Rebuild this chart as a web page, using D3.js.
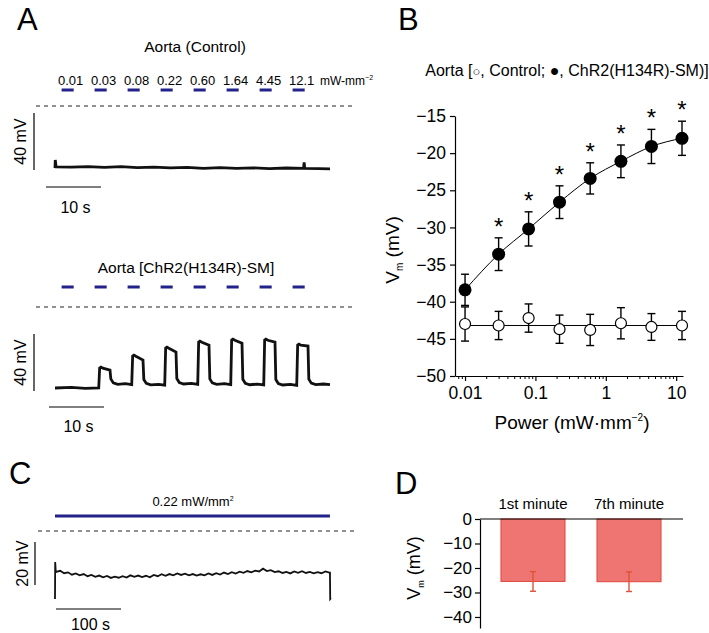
<!DOCTYPE html>
<html>
<head>
<meta charset="utf-8">
<script src="https://cdn.jsdelivr.net/npm/d3@7"></script>
<style>
body { margin: 0; background: #fff; }
svg { font-family: "Liberation Sans", Arial, Helvetica, sans-serif; }
</style>
</head>
<body>
<svg id="fig" width="709" height="633"></svg>
<script>
// --------- data ---------- //
// B: membrane potential vs light power
var powers = [0.01, 0.03, 0.08, 0.22, 0.60, 1.64, 4.45, 12.1];
var powerLabels = ["0.01", "0.03", "0.08", "0.22", "0.60", "1.64", "4.45", "12.1"];
var vmChR2 = [-38.4, -33.6, -30.2, -26.6, -23.4, -21.1, -19.1, -18.0];
var semChR2 = [2.1, 2.2, 2.3, 2.2, 2.1, 2.2, 2.3, 2.3];
var vmControl = [-43.0, -43.2, -42.2, -43.7, -43.8, -42.9, -43.4, -43.2];
var semControl = [2.3, 1.9, 1.9, 1.9, 2.1, 2.1, 1.8, 1.9];
var controlMean = -43.2;
var signif = [false, true, true, true, true, true, true, true];
var bTicksY = [-15, -20, -25, -30, -35, -40, -45, -50];
var bTicksX = [0.01, 0.1, 1, 10];
var bMinorX = [0.008, 0.009, 0.02, 0.03, 0.04, 0.05, 0.06, 0.07, 0.08, 0.09,
  0.2, 0.3, 0.4, 0.5, 0.6, 0.7, 0.8, 0.9, 2, 3, 4, 5, 6, 7, 8, 9];

// A: light pulses (s) and ChR2 trace, mV above rest
var stimStart = [1.2, 7.2, 13.2, 19.2, 25.2, 31.2, 37.2, 43.2];
var stimDur = 2.2;
var pulseOn = [8, 14, 20, 26, 32, 38, 44];
var pulsePeak = [14.7, 23.1, 28.7, 32.9, 34.3, 34.3, 30.8];
var pulseEnd = [12.6, 19.6, 25.2, 30.1, 31.5, 32.2, 29.4];
var pulseBase = [0, 2.4, 2.0, 2.6, 2.4, 2.1, 1.9, 2.2];
// A: control trace [s, mV]
var controlTrace = [[0, 0], [0.05, 5.6], [0.2, 0.8], [3, 0.6], [6, 1.0], [9, 0.4], [12, 0.9], [15, 0.2],
  [18, 0.6], [21, 0.1], [24, 0.4], [27, -0.2], [30, 0.2], [33, -0.3], [36, 0.1], [39, -0.4],
  [42, 0], [45.2, -0.3], [45.3, 4.0], [45.4, -0.3], [48, -0.5], [50, -0.6]];

// C: 7 min illumination at 0.22 mW/mm2, mV above rest
var cTime = [2, 8, 14, 20, 26, 32, 38, 44, 50, 56, 62, 68, 74, 80, 86, 92, 98, 104, 110, 116,
  122, 128, 134, 140, 146, 152, 158, 164, 170, 176, 182, 188, 194, 200, 206, 212, 218, 224,
  230, 236, 242, 248, 254, 260, 266, 272, 278, 284, 290, 296, 302, 308, 314, 320, 326, 332,
  338, 344, 350, 356, 362, 368, 374, 380, 386, 392, 398, 404, 410, 416, 422];
var cVm = [12.6, 13.1, 12.0, 12.4, 11.3, 11.9, 11.0, 11.6, 10.6, 11.2, 10.3, 10.9, 10.1, 10.7,
  9.8, 10.4, 9.9, 10.6, 10.0, 11.0, 10.3, 10.9, 10.2, 10.8, 10.1, 11.2, 10.6, 11.5, 10.8, 11.6,
  11.0, 11.9, 11.2, 11.8, 11.0, 11.6, 10.9, 11.5, 11.0, 11.9, 11.2, 12.0, 11.4, 12.3, 11.6,
  12.5, 11.8, 12.7, 12.2, 13.0, 12.4, 13.2, 12.8, 14.1, 13.0, 13.4, 12.5, 12.9, 12.1, 12.6,
  11.9, 12.8, 12.2, 12.9, 12.1, 12.6, 11.9, 12.5, 12.0, 12.8, 12.3];
var cEnd = 423;

// D: Vm at 1st and 7th minute
var dCats = ["1st minute", "7th minute"];
var dMean = [-25.5, -25.6];
var dSem = [4.0, 4.0];
var dTicks = [0, -10, -20, -30, -40];

// --------- helpers ---------- //
var svg = d3.select("#fig");
var blue = "#23218a";

function panelLetter(t, x, y) {
  svg.append("text").attr("x", x).attr("y", y).attr("font-size", 31).text(t);
}
function dashed(x1, x2, y) {
  svg.append("line").attr("x1", x1).attr("x2", x2).attr("y1", y).attr("y2", y)
    .attr("stroke", "#222").attr("stroke-width", 1).attr("stroke-dasharray", "4,4");
}
function vbar(x, y1, y2, label, lx) {
  svg.append("line").attr("x1", x).attr("x2", x).attr("y1", y1).attr("y2", y2)
    .attr("stroke", "#000").attr("stroke-width", 1.2);
  svg.append("text").attr("transform", "translate(" + lx + "," + (y1 + y2) / 2 + ") rotate(-90)")
    .attr("text-anchor", "middle").attr("font-size", 16).attr("dy", "0.35em").text(label);
}
function hbar(x1, x2, y, label, ty) {
  svg.append("line").attr("x1", x1).attr("x2", x2).attr("y1", y).attr("y2", y)
    .attr("stroke", "#000").attr("stroke-width", 1.2);
  svg.append("text").attr("x", (x1 + x2) / 2 + 2).attr("y", ty).attr("text-anchor", "middle")
    .attr("font-size", 16).text(label);
}
var traceLine = function(xs, ys) {
  return d3.line().x(function(d){ return xs(d[0]); }).y(function(d){ return ys(d[1]); });
};

// --------- Panel A ---------- //
panelLetter("A", 17, 30);
var ax = d3.scaleLinear().domain([0, 50]).range([55, 330]);
svg.append("text").attr("x", 195).attr("y", 52).attr("text-anchor", "middle")
  .attr("font-size", 15.5).text("Aorta (Control)");

svg.selectAll(".plab").data(powerLabels).enter().append("text")
  .attr("x", function(d, i){ return ax(stimStart[i] + stimDur / 2) + 3; })
  .attr("y", 85).attr("text-anchor", "middle").attr("font-size", 13).text(function(d){ return d; });
var unitA = svg.append("text").attr("x", 320).attr("y", 85).attr("font-size", 12);
unitA.append("tspan").text("mW-mm");
unitA.append("tspan").attr("font-size", 7).attr("dy", -5).text("−2");

[90, 287].forEach(function(yy) {
  svg.selectAll(null).data(stimStart).enter().append("line")
    .attr("x1", function(d){ return ax(d); }).attr("x2", function(d){ return ax(d + stimDur); })
    .attr("y1", yy).attr("y2", yy).attr("stroke", blue).attr("stroke-width", 3);
});
dashed(36, 355, 106);
dashed(36, 355, 307);

// control trace
var ay1 = d3.scaleLinear().domain([0, 40]).range([168, 168 - 57]);
svg.append("path").datum(controlTrace).attr("d", traceLine(ax, ay1))
  .attr("fill", "none").attr("stroke", "#111").attr("stroke-width", 2.8);
vbar(34, 113, 170, "40 mV", 20);
hbar(46, 101, 187, "10 s", 213);

// ChR2 trace
svg.append("text").attr("x", 186).attr("y", 273).attr("text-anchor", "middle")
  .attr("font-size", 15.5).text("Aorta [ChR2(H134R)-SM]");
var a2 = [[0, pulseBase[0]], [3, pulseBase[0] + 0.4], [5.5, pulseBase[0] - 0.2]];
pulseOn.forEach(function(on, i) {
  var b = pulseBase[i], nb = pulseBase[i + 1];
  a2.push([on - 0.05, b], [on + 0.12, pulsePeak[i] - 0.6], [on + 0.35, pulsePeak[i]],
    [on + 0.7, pulsePeak[i] - 0.8], [on + 2, pulseEnd[i]], [on + 2.15, nb + 4],
    [on + 2.6, nb + 1.2], [on + 3.4, nb + 0.2], [on + 4.8, nb + 0.6]);
});
a2.push([50, pulseBase[7] + 0.2]);
var ay2 = d3.scaleLinear().domain([0, 40]).range([388, 388 - 57]);
svg.append("path").datum(a2).attr("d", traceLine(ax, ay2))
  .attr("fill", "none").attr("stroke", "#111").attr("stroke-width", 2.8);
vbar(34, 334, 391, "40 mV", 20);
hbar(49, 104, 407, "10 s", 432);

// --------- Panel B ---------- //
panelLetter("B", 398, 30);
var bx = d3.scaleLog().domain([0.0072, 12.5]).range([455, 683]);
var by = d3.scaleLinear().domain([-50, -15]).range([376, 116]);

var bt = svg.append("text").attr("x", 567).attr("y", 76).attr("text-anchor", "middle").attr("font-size", 16);
bt.append("tspan").text("Aorta [");
bt.append("tspan").attr("font-size", 13).text("○");
bt.append("tspan").text(", Control; ");
bt.append("tspan").attr("font-size", 16).text("●");
bt.append("tspan").text(", ChR2(H134R)-SM)]");

var gx = svg.append("g").attr("transform", "translate(0,376)")
  .call(d3.axisBottom(bx).tickValues(bTicksX).tickFormat(function(d){ return String(d); })
    .tickSize(5).tickSizeOuter(0).tickPadding(6));
svg.append("g").attr("transform", "translate(0,376)")
  .call(d3.axisBottom(bx).tickValues(bMinorX).tickFormat("").tickSize(3).tickSizeOuter(0))
  .select(".domain").remove();
var gy = svg.append("g").attr("transform", "translate(455,0)")
  .call(d3.axisLeft(by).tickValues(bTicksY).tickFormat(d3.format("d")).tickSize(5).tickSizeOuter(0).tickPadding(4));
[gx, gy].forEach(function(g) {
  g.attr("font-size", 17.5).attr("font-family", null);
  g.selectAll("path,line").attr("stroke-width", 1.2);
});

var yl = svg.append("text").attr("transform", "translate(399,250) rotate(-90)")
  .attr("text-anchor", "middle").attr("font-size", 19);
yl.append("tspan").text("V");
yl.append("tspan").attr("font-size", 10).attr("dy", 4).text("m");
yl.append("tspan").attr("dy", -4).text(" (mV)");

var xl = svg.append("text").attr("x", 572).attr("y", 429).attr("text-anchor", "middle").attr("font-size", 19);
xl.append("tspan").text("Power (mW·mm");
xl.append("tspan").attr("font-size", 10).attr("dy", -8).text("−2");
xl.append("tspan").attr("dy", 8).text(")");

// fit lines
svg.append("line").attr("x1", bx(powers[0])).attr("x2", bx(powers[7]))
  .attr("y1", by(controlMean)).attr("y2", by(controlMean)).attr("stroke", "#000").attr("stroke-width", 1);
svg.append("path").datum(d3.zip(powers, vmChR2))
  .attr("d", d3.line().curve(d3.curveMonotoneX).x(function(d){ return bx(d[0]); }).y(function(d){ return by(d[1]); }))
  .attr("fill", "none").attr("stroke", "#000").attr("stroke-width", 1);

function errBars(vals, sems, color, cap, xs, ys, xv) {
  var g = svg.append("g").attr("stroke", color).attr("stroke-width", 1.4);
  vals.forEach(function(v, i) {
    var x = xs(xv[i]);
    g.append("line").attr("x1", x).attr("x2", x).attr("y1", ys(v - sems[i])).attr("y2", ys(v + sems[i]));
    g.append("line").attr("x1", x - cap).attr("x2", x + cap).attr("y1", ys(v - sems[i])).attr("y2", ys(v - sems[i]));
    g.append("line").attr("x1", x - cap).attr("x2", x + cap).attr("y1", ys(v + sems[i])).attr("y2", ys(v + sems[i]));
  });
}
errBars(vmControl, semControl, "#000", 4, bx, by, powers);
errBars(vmChR2, semChR2, "#000", 4, bx, by, powers);

svg.selectAll(".oc").data(vmControl).enter().append("circle")
  .attr("cx", function(d, i){ return bx(powers[i]); }).attr("cy", function(d){ return by(d); })
  .attr("r", 5.5).attr("fill", "#fff").attr("stroke", "#000").attr("stroke-width", 1.2);
svg.selectAll(".fc").data(vmChR2).enter().append("circle")
  .attr("cx", function(d, i){ return bx(powers[i]); }).attr("cy", function(d){ return by(d); })
  .attr("r", 6.5).attr("fill", "#000");

// significance marks, one per flagged power
var sigIdx = d3.range(powers.length).filter(function(i){ return signif[i]; });
svg.selectAll(".ast").data(sigIdx).enter().append("text")
  .attr("x", function(i){ return bx(powers[i]); })
  .attr("y", function(i){ return by(vmChR2[i] + semChR2[i]) - 3; })
  .attr("text-anchor", "middle").attr("font-size", 24).text("*");

// --------- Panel C ---------- //
panelLetter("C", 9, 484);
var cx = d3.scaleLinear().domain([0, 100]).range([55, 120]);
var cy = d3.scaleLinear().domain([0, 20]).range([599, 599 - 43]);
svg.append("text").attr("x", 193).attr("y", 506).attr("text-anchor", "middle").attr("font-size", 13)
  .call(function(t) {
    t.append("tspan").text("0.22 mW/mm");
    t.append("tspan").attr("font-size", 7).attr("dy", -5).text("2");
  });
svg.append("line").attr("x1", cx(0)).attr("x2", cx(cEnd)).attr("y1", 516).attr("y2", 516)
  .attr("stroke", blue).attr("stroke-width", 3);
dashed(38, 355, 531);
var cTrace = [[0, 0], [0.3, 17.2], [1.2, 12.5]].concat(d3.zip(cTime, cVm))
  .concat([[cEnd, 12.3], [cEnd + 0.4, 0], [cEnd + 1.5, 0.4]]);
svg.append("path").datum(cTrace).attr("d", traceLine(cx, cy))
  .attr("fill", "none").attr("stroke", "#111").attr("stroke-width", 1.8);
vbar(35, 542, 585, "20 mV", 22);
hbar(56, 121, 609, "100 s", 630);

// --------- Panel D ---------- //
panelLetter("D", 395, 494);
var dx = d3.scaleBand().domain(dCats).range([469, 693]).paddingInner(0.333).paddingOuter(0.333);
var dy = d3.scaleLinear().domain([-44.5, 0]).range([628, 519]);
svg.selectAll(".dlab").data(dCats).enter().append("text")
  .attr("x", function(d){ return dx(d) + dx.bandwidth() / 2; }).attr("y", 509)
  .attr("text-anchor", "middle").attr("font-size", 15).text(function(d){ return d; });
svg.selectAll(".bar").data(dMean).enter().append("rect")
  .attr("x", function(d, i){ return dx(dCats[i]); }).attr("y", dy(0))
  .attr("width", dx.bandwidth()).attr("height", function(d){ return dy(d) - dy(0); })
  .attr("fill", "#ee7571").attr("stroke", "#e0483d").attr("stroke-width", 1);
errBars(dMean, dSem, "#e0523a", 3, function(c){ return dx(c) + dx.bandwidth() / 2; }, dy, dCats);
svg.append("line").attr("x1", 480).attr("x2", 683).attr("y1", dy(0)).attr("y2", dy(0))
  .attr("stroke", "#000").attr("stroke-width", 1.2);
var gd = svg.append("g").attr("transform", "translate(480,0)")
  .call(d3.axisLeft(dy).tickValues(dTicks).tickFormat(d3.format("d")).tickSize(5).tickSizeOuter(0).tickPadding(3));
gd.attr("font-size", 17).attr("font-family", null);
gd.selectAll("path,line").attr("stroke-width", 1.2);
var dl = svg.append("text").attr("transform", "translate(420,568) rotate(-90)")
  .attr("text-anchor", "middle").attr("font-size", 18);
dl.append("tspan").text("V");
dl.append("tspan").attr("font-size", 9).attr("dy", 4).text("m");
dl.append("tspan").attr("dy", -4).text(" (mV)");
</script>
</body>
</html>
